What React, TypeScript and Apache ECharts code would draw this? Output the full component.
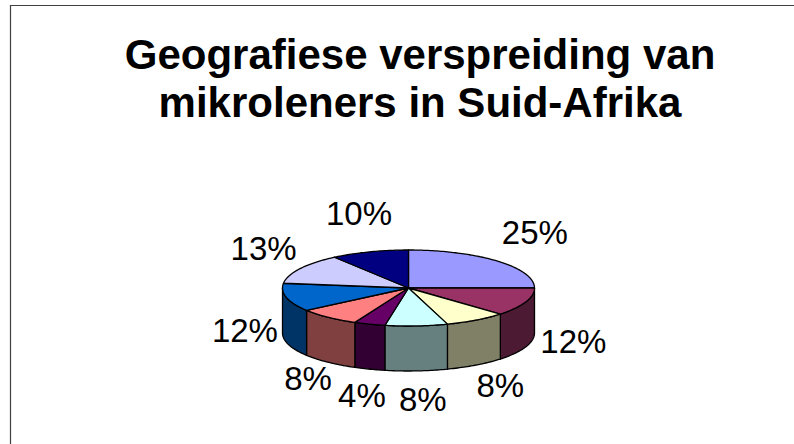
import React, { useEffect, useRef } from 'react';
import * as echarts from 'echarts';

const titleLines = ['Geografiese verspreiding van', 'mikroleners in Suid-Afrika'];
const sliceValues = [25, 12, 8, 8, 4, 8, 12, 13, 10];
const sliceLabels = ['25%', '12%', '8%', '8%', '4%', '8%', '12%', '13%', '10%'];
const topColors = ['#9999FF', '#993366', '#FFFFCC', '#CCFFFF', '#660066', '#FF8080', '#0066CC', '#CCCCFF', '#000080'];
const sideColors = ['#4D4D80', '#4D1A33', '#808066', '#668080', '#330033', '#804040', '#003366', '#666680', '#000040'];

// pie geometry (layout)
const CX = 408.5;
const CY = 288;
const RX = 126;
const RY = 38;
const DEPTH = 45;
const LABEL_FONT = 33;
const LABEL_GAP = 140;
const LABEL_SHIFT_X = 4;

const total = sliceValues.reduce((a, b) => a + b, 0);
const starts: number[] = [];
{
  let acc = 0;
  for (const v of sliceValues) {
    starts.push((acc / total) * Math.PI * 2);
    acc += v;
  }
}

function pt(t: number, dy = 0): number[] {
  return [CX + RX * Math.sin(t), CY - RY * Math.cos(t) + dy];
}

function arcPts(a: number, b: number, dy = 0): number[][] {
  const n = Math.max(2, Math.ceil((b - a) / (Math.PI / 180)));
  const out: number[][] = [];
  for (let k = 0; k <= n; k++) out.push(pt(a + ((b - a) * k) / n, dy));
  return out;
}

function sliceAngles(i: number, value: number) {
  const a1 = starts[i];
  const a2 = a1 + (value / total) * Math.PI * 2;
  return [a1, a2];
}

export default function App() {
  const ref = useRef<HTMLDivElement>(null);
  useEffect(() => {
    if (!ref.current) return;
    const chart = echarts.init(ref.current, undefined, { renderer: 'svg' });
    const data = sliceValues.map((v, i) => ({ value: v, name: sliceLabels[i] }));
    chart.setOption({
      animation: false,
      backgroundColor: '#ffffff',
      title: {
        text: titleLines.join('\n'),
        left: 420,
        top: 30,
        padding: 0,
        textAlign: 'center',
        textStyle: {
          fontFamily: 'Liberation Sans, Arial, sans-serif',
          fontSize: 42,
          fontWeight: 'bold',
          color: '#000',
          lineHeight: 48,
        },
      },
      graphic: [
        {
          type: 'rect',
          z: -10,
          shape: { x: 10.5, y: 5.5, width: 820, height: 480 },
          style: { fill: 'none', stroke: '#404040', lineWidth: 1.2 },
        },
      ],
      series: [
        {
          type: 'custom',
          name: 'sides',
          coordinateSystem: 'none',
          z: 1,
          data,
          renderItem: (params: any, api: any) => {
            const i = params.dataIndex;
            const [a1, a2] = sliceAngles(i, api.value(0));
            const s = Math.max(a1, Math.PI / 2);
            const e = Math.min(a2, (Math.PI * 3) / 2);
            if (e <= s) return { type: 'group', children: [] };
            const topArc = arcPts(s, e);
            const botArc = arcPts(s, e, DEPTH).reverse();
            return {
              type: 'polygon',
              shape: { points: topArc.concat(botArc) },
              style: { fill: sideColors[i], stroke: '#000', lineWidth: 1.3, lineJoin: 'round' },
            };
          },
        },
        {
          type: 'custom',
          name: 'tops',
          coordinateSystem: 'none',
          z: 2,
          data,
          renderItem: (params: any, api: any) => {
            const i = params.dataIndex;
            const [a1, a2] = sliceAngles(i, api.value(0));
            const pts = [[CX, CY]].concat(arcPts(a1, a2));
            return {
              type: 'polygon',
              shape: { points: pts },
              style: { fill: topColors[i], stroke: '#000', lineWidth: 1.3, lineJoin: 'round' },
            };
          },
        },
        {
          type: 'custom',
          name: 'labels',
          coordinateSystem: 'none',
          z: 3,
          data,
          renderItem: (params: any, api: any) => {
            const i = params.dataIndex;
            const [a1, a2] = sliceAngles(i, api.value(0));
            const m = (a1 + a2) / 2;
            const text = sliceLabels[i];
            const w = ((text.length - 1) * 0.556 + 0.889) * LABEL_FONT;
            const sn = Math.sin(m);
            const cs = Math.cos(m);
            const x = CX + LABEL_SHIFT_X + (LABEL_GAP + w / 2) * sn;
            const front = cs < 0;
            const y = front ? CY + 20 + 92 * -cs : CY - 78 * cs;
            return {
              type: 'text',
              x,
              y,
              style: {
                text,
                fontFamily: 'Liberation Sans, Arial, sans-serif',
                fontSize: LABEL_FONT,
                fill: '#000',
                align: 'center',
                verticalAlign: 'middle',
              },
            };
          },
        },
      ],
    });
    return () => chart.dispose();
  }, []);
  return (
    <div
      ref={ref}
      style={{ position: 'absolute', left: 0, top: 0, width: 794, height: 444 }}
    />
  );
}
